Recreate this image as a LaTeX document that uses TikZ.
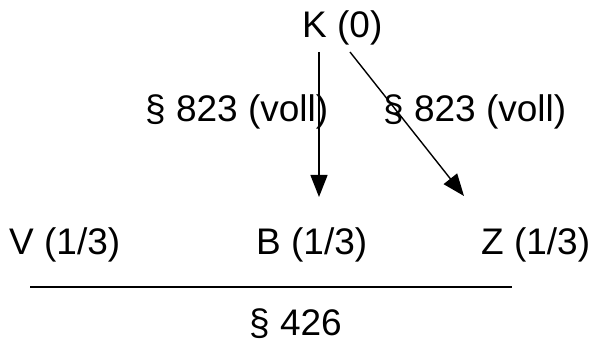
\documentclass[tikz,border=0pt]{standalone}
\usepackage{fontspec}
\setmainfont{Liberation Sans}
\usetikzlibrary{arrows.meta}
\begin{document}
\begin{tikzpicture}[x=1pt,y=-1pt,
  lbl/.style={anchor=base west,inner sep=0pt,font=\fontsize{37}{40}\selectfont},
  conn/.style={line width=1.4pt,-{Triangle[length=22pt,width=17pt]}}]
\useasboundingbox (0,0) rectangle (594,344);
\node[lbl] (K) at (302,38) {K (0)};
\node[lbl] (L1) at (145,122) {§ 823 (voll)};
\node[lbl] (L2) at (383,122) {§ 823 (voll)};
\node[lbl] (V) at (9,255) {V (1/3)};
\node[lbl] (B) at (256,255) {B (1/3)};
\node[lbl] (Z) at (481,255) {Z (1/3)};
\node[lbl] (P) at (249,335) {§ 426};
\coordinate (k1) at (319,52);
\coordinate (b1) at (319,197);
\coordinate (k2) at (350,52);
\coordinate (z1) at (464,196);
\coordinate (la) at (30,287);
\coordinate (lb) at (512,287);
\draw[conn] (k1) -- (b1);
\draw[conn] (k2) -- (z1);
\draw[line width=1.5pt] (la) -- (lb);
\end{tikzpicture}
\end{document}
